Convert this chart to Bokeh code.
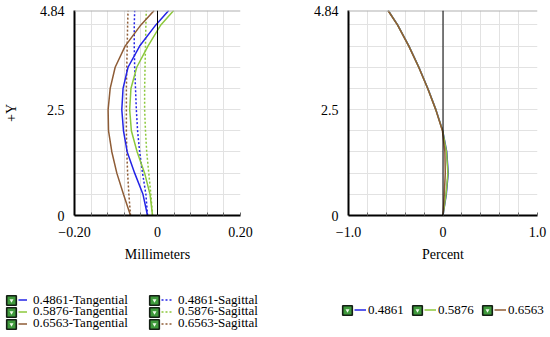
from bokeh.plotting import figure
from bokeh.models import FixedTicker, Span, Legend, LegendItem, Range1d
from bokeh.layouts import column, row
from bokeh.embed import file_html
from bokeh.resources import INLINE

# ---------------- data ----------------
field_y = [0.0, 0.5, 1.0, 1.5, 2.0, 2.5, 3.0, 3.5, 4.0, 4.5, 4.84]
wavelengths = ["0.4861", "0.5876", "0.6563"]

tan_4861 = [-0.024, -0.035, -0.055, -0.073, -0.082, -0.086, -0.083, -0.071, -0.043, -0.004, 0.027]
tan_5876 = [-0.012, -0.018, -0.031, -0.049, -0.063, -0.067, -0.064, -0.050, -0.023, 0.008, 0.039]
tan_6563 = [-0.065, -0.082, -0.098, -0.110, -0.118, -0.119, -0.114, -0.102, -0.078, -0.040, -0.008]
sag_4861 = [-0.024, -0.028, -0.036, -0.043, -0.048, -0.051, -0.053, -0.055, -0.056, -0.056, -0.055]
sag_5876 = [-0.012, -0.016, -0.021, -0.026, -0.029, -0.031, -0.031, -0.030, -0.029, -0.028, -0.027]
sag_6563 = [-0.065, -0.069, -0.072, -0.074, -0.075, -0.075, -0.075, -0.074, -0.073, -0.072, -0.071]

dist_4861 = [0.0, 0.035, 0.055, 0.040, -0.003, -0.075, -0.160, -0.255, -0.360, -0.480, -0.580]
dist_5876 = [0.0, 0.032, 0.052, 0.037, -0.004, -0.076, -0.161, -0.256, -0.361, -0.481, -0.581]
dist_6563 = [0.0, 0.014, 0.024, 0.020, -0.006, -0.077, -0.162, -0.257, -0.362, -0.482, -0.582]

x_ticks_mm = [-0.2, 0.0, 0.2]
x_labels_mm = ["\u22120.20", "0", "0.20"]
x_grid_mm = [-0.2, -0.16, -0.12, -0.08, -0.04, 0.0, 0.04, 0.08, 0.12, 0.16, 0.2]
x_ticks_pct = [-1.0, 0.0, 1.0]
x_labels_pct = ["\u22121.0", "0", "1.0"]
x_grid_pct = [-1.0, -0.8, -0.6, -0.4, -0.2, 0.0, 0.2, 0.4, 0.6, 0.8, 1.0]
y_ticks = [0.0, 2.5, 4.84]
y_labels = ["0", "2.5", "4.84"]
y_grid = [0.0, 0.5, 1.0, 1.5, 2.0, 2.5, 3.0, 3.5, 4.0, 4.5]

# ---------------- style ----------------
FONT = "Liberation Serif"
COLORS = ["#2424e6", "#8cc83c", "#8e5c36"]
GRID = "#e2e2e2"


def make_fig(width, xr, xt, xl, xg, xlabel, ylabel, bl, br):
    p = figure(width=width, height=270, x_range=Range1d(*xr), y_range=Range1d(0, 4.84),
               output_backend="svg", toolbar_location=None,
               min_border_left=bl, min_border_right=br, min_border_top=10, min_border_bottom=55)
    p.outline_line_color = None
    p.xaxis.ticker = FixedTicker(ticks=xt, minor_ticks=xg)
    p.xaxis.major_label_overrides = dict(zip(xt, xl))
    p.yaxis.ticker = FixedTicker(ticks=y_ticks, minor_ticks=y_grid)
    p.yaxis.major_label_overrides = dict(zip(y_ticks, y_labels))
    for ax in (p.xaxis, p.yaxis):
        ax.axis_line_color = "black"
        ax.axis_line_width = 2
        ax.major_tick_in = 0
        ax.major_tick_out = 0
        ax.major_label_text_font = FONT
        ax.major_label_text_font_size = "14px"
        ax.major_label_text_color = "black"
        ax.axis_label_text_font = FONT
        ax.axis_label_text_font_size = "14px"
        ax.axis_label_text_font_style = "normal"
        ax.axis_label_text_color = "black"
    p.xaxis.minor_tick_in = 3
    p.xaxis.minor_tick_out = 0
    p.xaxis.minor_tick_line_color = "#666666"
    p.yaxis.minor_tick_in = 0
    p.yaxis.minor_tick_out = 0
    p.xaxis.major_label_standoff = 11
    p.xaxis.axis_label = xlabel
    p.xaxis.axis_label_standoff = 7
    p.yaxis.major_label_standoff = 10
    if ylabel:
        p.yaxis.axis_label = ylabel
        p.yaxis.axis_label_standoff = 18
    for g in (p.xgrid, p.ygrid):
        g.grid_line_color = GRID
        g.minor_grid_line_color = GRID
    p.add_layout(Span(location=4.84, dimension="width", line_color="#b0b0b0", line_width=2))
    p.add_layout(Span(location=0, dimension="height", line_color="black", line_width=1))
    return p


# Left: field curvature
pl = make_fig(279, (-0.2, 0.2), x_ticks_mm, x_labels_mm, x_grid_mm, "Millimeters", "+Y", 70, 39)
tans = [tan_4861, tan_5876, tan_6563]
sags = [sag_4861, sag_5876, sag_6563]
for c, s in zip(COLORS, sags):
    pl.line(x=s, y=field_y, line_color=c, line_width=1.5, line_dash="2 2")
for c, t in zip(COLORS, tans):
    pl.line(x=t, y=field_y, line_color=c, line_width=1.5)

# Right: distortion
pr = make_fig(271, (-1.0, 1.0), x_ticks_pct, x_labels_pct, x_grid_pct, "Percent", None, 69, 13)
for c, d in zip(COLORS, [dist_4861, dist_5876, dist_6563]):
    pr.line(x=d, y=field_y, line_color=c, line_width=1.5)

# ---------------- legends (separate strip) ----------------
LH = 67
lf = figure(width=550, height=LH, x_range=Range1d(0, 1), y_range=Range1d(0, 1),
            output_backend="svg", toolbar_location=None, min_border=0,
            x_axis_location=None, y_axis_location=None)
lf.grid.visible = False
lf.outline_line_color = None

# legend proxies: one point each, kept outside the strip's visible range
PX, PY = [0.5], [-5.0]
box = lf.scatter(x=PX, y=PY, marker="square", size=10, fill_color="#3f9a3c",
                 line_color="#141e14", line_width=1.6)
tick = lf.scatter(x=PX, y=PY, marker="inverted_triangle", size=5, fill_color="#eefbe8", line_color=None)
solid = [lf.line(x=PX * 2, y=PY * 2, line_color=c, line_width=1.5) for c in COLORS]
dotted = [lf.line(x=PX * 2, y=PY * 2, line_color=c, line_width=1.5, line_dash="2 2") for c in COLORS]

RH = 15


def base_leg(renderers, label, loc, gw, gh, standoff, fs, lh):
    lg = Legend(items=[LegendItem(label=label, renderers=renderers)],
                location=loc, glyph_width=gw, glyph_height=gh, label_height=lh,
                label_standoff=standoff, padding=0, margin=0, spacing=0,
                border_line_color=None, background_fill_alpha=0,
                label_text_font=FONT, label_text_font_size=fs, label_text_color="black")
    lf.add_layout(lg)


def checkbox(cx, cy_page):
    cy = LH - cy_page
    # marker size inside a legend = 0.4 * glyph box
    base_leg([box], " ", (cx - 12, cy - 12), 24, 24, 0, "1px", 1)
    base_leg([tick], " ", (cx - 5, cy - 5), 10, 10, 0, "1px", 1)


def line_item(r, label, x, cy_page, gw, standoff):
    cy = LH - cy_page
    base_leg([r], label, (x, cy - RH / 2), gw, RH, standoff, "13px", RH)


row_c = [30.0, 41.8, 53.5]  # row centres measured from the strip's top
for i, w in enumerate(wavelengths):
    checkbox(11, row_c[i])
    line_item(solid[i], w + "-Tangential", 18, row_c[i], 9, 6)
    checkbox(154, row_c[i])
    line_item(dotted[i], w + "-Sagittal", 161, row_c[i], 12, 5)

chk_x = [347, 417, 487]
line_x = [354, 424, 494]
for i, w in enumerate(wavelengths):
    checkbox(chk_x[i], 40.3)
    line_item(solid[i], w, line_x[i], 40.3, 12, 2)

layout = column(row(pl, pr), lf)
open("out.html", "w").write(file_html(layout, INLINE))
